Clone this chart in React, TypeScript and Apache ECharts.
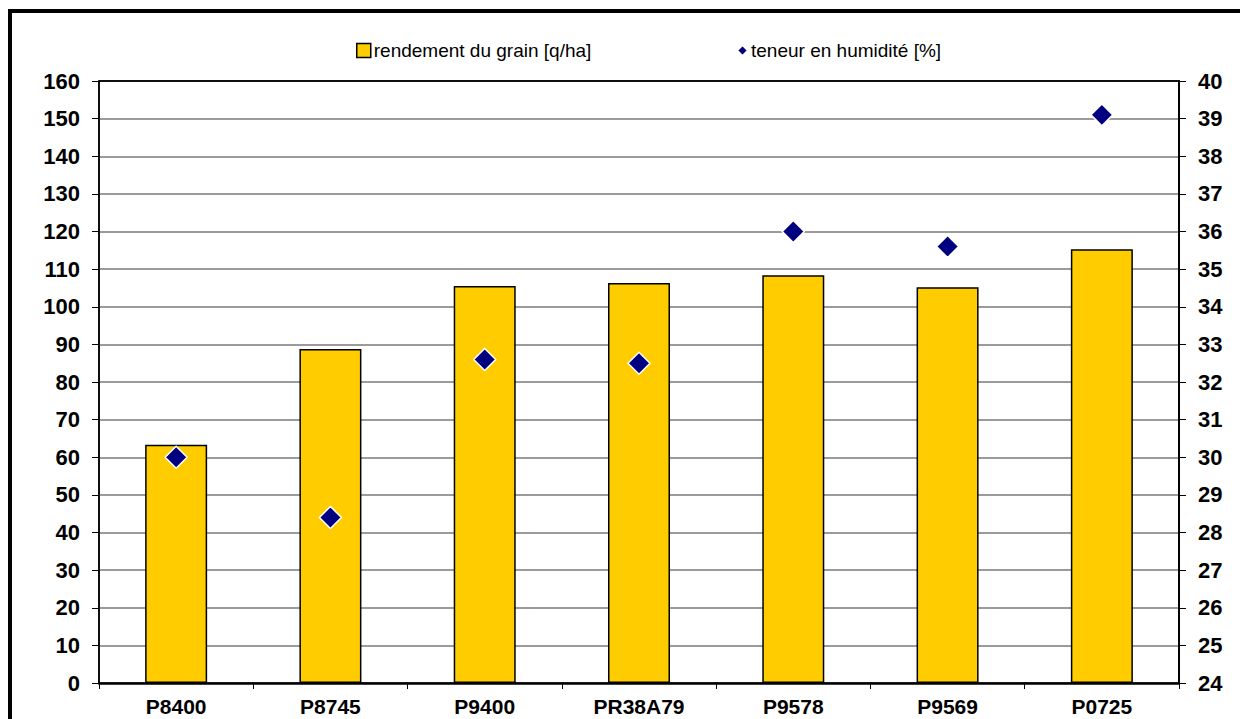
import React, { useEffect, useRef } from "react";
import * as echarts from "echarts";

const categories = ["P8400", "P8745", "P9400", "PR38A79", "P9578", "P9569", "P0725"];
const yieldValues = [63.3, 88.8, 105.5, 106.3, 108.4, 105.2, 115.3];
const moistureValues = [30.0, 28.4, 32.6, 32.5, 36.0, 35.6, 39.1];
const barName = "rendement du grain [q/ha]";
const scatterName = "teneur en humidité [%]";

export default function App() {
  const ref = useRef<HTMLDivElement>(null);
  useEffect(() => {
    if (!ref.current) return;
    const chart = echarts.init(ref.current, null, { renderer: "svg" });
    const font = "Liberation Sans";
    const gridColors = Array.from({ length: 17 }, (_, i) => (i === 16 ? "#000" : "#7a7a7a"));
    chart.setOption({
      animation: false,
      backgroundColor: "#fff",
      textStyle: { fontFamily: font },
      graphic: [
        {
          type: "rect",
          shape: { x: 10, y: 11, width: 1300, height: 800 },
          style: { fill: "none", stroke: "#000", lineWidth: 4 },
          z: 100,
        },
      ],
      legend: [
        {
          left: 356,
          top: 41,
          itemWidth: 14,
          itemHeight: 14,
          padding: 0,
          data: [{ name: barName, icon: "rect", itemStyle: { color: "#FFCC00", borderColor: "#000", borderWidth: 1.5 } }],
          textStyle: { fontSize: 19, color: "#000", fontFamily: font, padding: [0, 0, 0, -2] },
        },
        {
          left: 736,
          top: 41,
          itemWidth: 11,
          itemHeight: 11,
          padding: 0,
          data: [{ name: scatterName, icon: "diamond" }],
          textStyle: { fontSize: 19, color: "#000", fontFamily: font, padding: [0, 0, 0, -2] },
        },
      ],
      grid: {
        left: 99,
        right: 61,
        top: 81,
        bottom: 36,
        show: true,
        borderColor: "#000",
        borderWidth: 1.5,
        backgroundColor: "transparent",
      },
      xAxis: {
        type: "category",
        data: categories,
        boundaryGap: true,
        axisLine: { lineStyle: { color: "#000", width: 2.5 } },
        axisTick: { show: true, length: 6, lineStyle: { color: "#000" } },
        axisLabel: { color: "#000", fontSize: 21, fontWeight: "bold", fontFamily: font, margin: 13 },
        splitLine: { show: false },
      },
      yAxis: [
        {
          type: "value",
          min: 0,
          max: 160,
          interval: 10,
          axisLine: { show: true, lineStyle: { color: "#000", width: 1.5 } },
          axisTick: { show: true, length: 7, lineStyle: { color: "#000" } },
          axisLabel: { color: "#000", fontSize: 22, fontWeight: "bold", fontFamily: font, margin: 19 },
          splitLine: { show: true, lineStyle: { color: gridColors, width: 1.5 } },
        },
        {
          type: "value",
          min: 24,
          max: 40,
          interval: 1,
          position: "right",
          axisLine: { show: true, lineStyle: { color: "#000", width: 2 } },
          axisTick: { show: true, length: 7, lineStyle: { color: "#000" } },
          axisLabel: { color: "#000", fontSize: 22, fontWeight: "bold", fontFamily: font, margin: 19 },
          splitLine: { show: false },
        },
      ],
      series: [
        {
          name: barName,
          type: "bar",
          yAxisIndex: 0,
          data: yieldValues,
          barWidth: 62,
          itemStyle: { color: "#FFCC00", borderColor: "#000", borderWidth: 1.5 },
        },
        {
          name: scatterName,
          type: "scatter",
          yAxisIndex: 1,
          data: moistureValues,
          symbol: "diamond",
          symbolSize: 22,
          itemStyle: { color: "#000080", borderColor: "#fff", borderWidth: 1.5, opacity: 1 },
          z: 5,
        },
      ],
    });
    return () => chart.dispose();
  }, []);
  return (
    <div
      ref={ref}
      style={{ position: "absolute", left: 0, top: 0, width: 1240, height: 719, background: "#fff" }}
    />
  );
}
